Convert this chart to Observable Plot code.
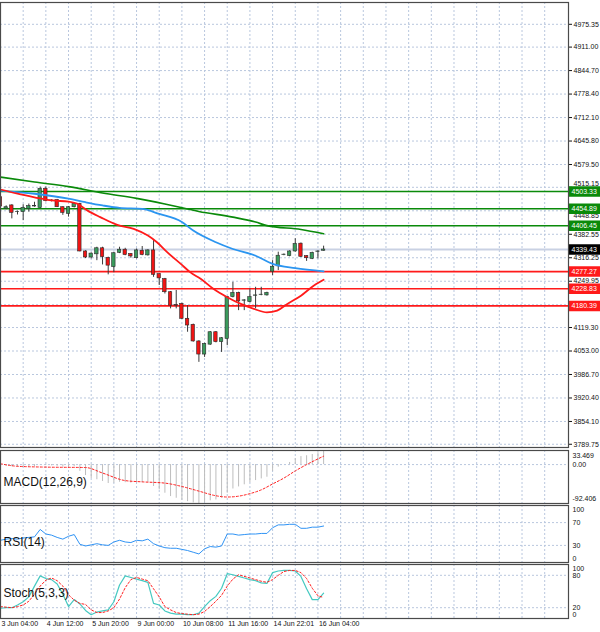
<!DOCTYPE html>
<html><head><meta charset="utf-8">
<script src="https://cdn.jsdelivr.net/npm/d3@7"></script>
<script src="https://cdn.jsdelivr.net/npm/@observablehq/plot@0.6"></script>
<style>
html,body{margin:0;padding:0;background:#fff;}
#chart{position:relative;width:600px;height:632px;overflow:hidden;background:#fff;}
#chart > svg{position:absolute;left:0;background:transparent !important;}
</style></head><body><div id="chart"></div>
<script>
// ---- price candles (H4 bars, index 0..57) ----
const opens  = [4487,4455,4464,4445,4445,4454,4461,4457,4511,4477,4479,4459,4440,4459,4468,4334,4317,4326,4343,4316,4290,4330,4339,4327,4315,4336,4323,4337,4270,4256,4219,4183,4186,4144,4127,4080,4043,4071,4106,4078,4087,4205,4217,4195,4191,4209,4211,4210,4277,4292,4324,4321,4334,4356,4321,4313,4333,4336];
const highs  = [4492,4463,4466,4448,4466,4468,4473,4516,4516,4480,4481,4460,4461,4470,4470,4336,4330,4346,4346,4318,4331,4346,4343,4328,4341,4348,4339,4365,4271,4258,4221,4224,4188,4181,4129,4082,4075,4108,4108,4091,4207,4247,4219,4198,4228,4233,4233,4219,4308,4332,4327,4336,4370,4358,4322,4332,4336,4349];
const lows   = [4455,4452,4426,4437,4421,4445,4459,4455,4474,4474,4458,4436,4431,4457,4333,4314,4313,4308,4296,4268,4274,4328,4322,4315,4313,4322,4321,4261,4238,4214,4172,4172,4142,4106,4078,4021,4035,4069,4076,4049,4068,4203,4167,4167,4189,4172,4209,4208,4266,4280,4322,4319,4332,4317,4306,4311,4313,4335];
const closes = [4461,4459,4443,4446,4457,4462,4462,4511,4476,4478,4459,4443,4459,4468,4334,4317,4328,4343,4318,4294,4329,4339,4324,4320,4337,4324,4337,4268,4258,4219,4181,4181,4144,4125,4080,4043,4073,4106,4078,4089,4205,4217,4193,4196,4205,4210,4212,4217,4291,4322,4325,4334,4355,4319,4315,4330,4334,4339.43];

// ---- moving averages (bar index, value) ----
const slowMaK = [0,6,12,18,24,29,33,35,41,45,47,53,57];
const slowMaV = [4544,4530,4517,4499,4484,4468,4454,4447,4431,4417,4407,4396,4384];
const midMaK  = [0,6,12,15,18,21,25,28,32,34,38,41,45,48,52,57];
const midMaV  = [4506,4497,4483,4473,4464,4457,4454,4440,4417,4393,4360,4341,4322,4299,4287,4278];
const fastMaK = [0,3,6,9,12,13.5,15.3,17.6,20.6,23.5,26,27.6,29.4,31.8,33.5,35.3,37.6,40,42.4,44.7,47,48.8,50.6,53,55.3,57];
const fastMaV = [4509,4497,4487,4478,4475,4469,4450,4431,4409,4398,4379,4360,4332,4299,4275,4257,4228,4205,4186,4172,4162,4167,4186,4209,4238,4254];

// ---- horizontal levels ----
const resistance = [4503.33, 4454.89, 4406.45];
const support    = [4277.27, 4228.83, 4180.39];
const bidPrice   = [4339.43];

// ---- price axis ticks ----
const priceTicks = [4975.35,4911.00,4844.70,4778.40,4712.10,4645.80,4579.50,4515.15,4448.85,4382.55,4316.25,4249.95,4183.65,4119.30,4053.00,3986.70,3920.40,3854.10,3789.75];
const tickAboveTag = [4515.15];   // partly hidden by the 4503.33 tag
const tickBelowTag = [4448.85];   // partly hidden by the 4454.89 tag
const tickHidden   = [4183.65];   // fully covered by the 4180.39 tag

// ---- MACD(12,26,9) ----
const macdMain = [-3,-4,-5,-6,-6,-5,-5,-1,-2,-3,-4,-6,-6,-5,-16,-26,-33,-36,-40,-45,-44,-42,-43,-44,-43,-43,-42,-52,-60,-68,-76,-80,-85,-88,-91,-92.4,-90,-86,-84,-80,-68,-58,-53,-48,-43,-38,-34,-30,-16,-6,0,5,14,19,21,24,28,33.469];
const macdSigK = [0,3,8,15,18,22,25,29,32,35,38,40,42,44,46,48,50,52,54,57];
const macdSigV = [2,-4,-6,-7,-20,-38,-41,-44,-52,-63,-74,-77,-75,-69,-60,-46,-32,-15,0,20];
const macdTicks = [33.469, 0, -92.406];

// ---- RSI(14) ----
const rsi = [39,41,42,41,43,44,45,58,50,48,44,41,46,49,32,29,31,33,31,30,36,39,36,35,39,38,41,33,29,26,25,25,23,21,18,15,24,28,27,29,50,50,48,49,50,50,51,51,61,66,66,67,67,60,60,62,62,64];
const rsiTicks = [100, 70, 30, 0];

// ---- Stochastic(5,3,3) ----
const stochMain = [19,20,20,25,31,40,60,79,74,72,64,45,22,35,27,15,7,12,14,16,31,62,79,76,73,70,67,28,25,14,10,8,8,7,7,10,22,33,41,56,83,81,78,75,72,70,66,65,85,88,89,89,88,78,55,35,35,47];
const stochSig  = [22,21,20,22,25,32,45,60,71,75,70,60,44,34,28,26,16,11,11,14,20,36,57,72,76,73,70,55,40,22,16,11,9,8,7,8,13,22,32,43,60,73,81,78,75,72,69,67,72,80,87,89,89,85,74,56,42,39];
const stochTicks = [100, 80, 20, 0];

// ---- time axis ----
const timeK = [0,8,16,24,32,40,48,56];
const timeLabels = ["3 Jun 04:00","4 Jun 12:00","5 Jun 20:00","9 Jun 00:00","10 Jun 08:00","11 Jun 16:00","14 Jun 22:01","16 Jun 04:00"];

// ---- build ----
const XMAX = 100.2;
const gridK = d3.range(0, 100, 4);
const GRID = "#b9c7de";
const FONT = "Tahoma, 'Liberation Sans', Arial, sans-serif";
const candles = opens.map((o, i) => ({k: i, o, h: highs[i], l: lows[i], c: closes[i]}));
const bulls = candles.filter(d => d.c >= d.o);
const bears = candles.filter(d => d.c < d.o);
const pts = (ks, vs) => ks.map((k, i) => ({k, v: vs[i]}));
const seq = vs => vs.map((v, k) => ({k, v}));
const fmt2 = d => d.toFixed(2);
const special = new Set([...tickAboveTag, ...tickBelowTag, ...tickHidden]);

const baseStyle = {fontFamily: FONT, fontSize: "7px", color: "#111", background: "transparent", overflow: "visible"};
const xOpt = {domain: [0, XMAX], axis: null};
const vgrid = () => Plot.ruleX(gridK, {stroke: GRID, strokeDasharray: "2,2"});
const frame = () => Plot.frame({stroke: "#4a4a4a", strokeWidth: 1.2});
const tagRule = (vals, color) => Plot.ruleY(vals, {y: d => d, x1: () => XMAX, x2: () => XMAX + 5.75, stroke: color, strokeWidth: 10.5});
const tagText = (vals) => Plot.text(vals, {y: d => d, x: () => XMAX, dx: 3, text: fmt2, textAnchor: "start", fill: "white", fontSize: 7});

const main = Plot.plot({
  width: 600, height: 449, marginLeft: 0, marginRight: 32, marginTop: 2, marginBottom: 2,
  x: xOpt,
  y: {domain: [3780.6, 5036.9], axis: "right", ticks: priceTicks, tickFormat: d => special.has(d) ? "" : fmt2(d), tickSize: 3, tickPadding: 2, label: null},
  style: baseStyle,
  marks: [
    Plot.ruleY(priceTicks, {stroke: GRID, strokeDasharray: "2,2"}),
    vgrid(),
    Plot.ruleY(bidPrice, {stroke: "#c9d1e3", strokeWidth: 2}),
    Plot.ruleY(resistance, {stroke: "#0a8a0a", strokeWidth: 1.5}),
    Plot.ruleY(support, {stroke: "#ff1a1a", strokeWidth: 1.7}),
    Plot.ruleX(candles, {x: "k", y1: "l", y2: "h", stroke: "#3a3a3a", strokeWidth: 1}),
    Plot.rect(bulls, {x1: d => d.k - 0.3, x2: d => d.k + 0.3, y1: "o", y2: "c", fill: "#3a9a5c", stroke: "#2a2a2a", strokeWidth: 0.6}),
    Plot.rect(bears, {x1: d => d.k - 0.3, x2: d => d.k + 0.3, y1: "o", y2: "c", fill: "#f01414", stroke: "#2a2a2a", strokeWidth: 0.6}),
    Plot.line(pts(slowMaK, slowMaV), {x: "k", y: "v", stroke: "#0a8a0a", strokeWidth: 1.6, curve: "monotone-x"}),
    Plot.line(pts(midMaK, midMaV), {x: "k", y: "v", stroke: "#2b95f0", strokeWidth: 1.8, curve: "monotone-x"}),
    Plot.line(pts(fastMaK, fastMaV), {x: "k", y: "v", stroke: "#ff1a1a", strokeWidth: 1.8, curve: "monotone-x"}),
    Plot.text(tickAboveTag, {y: d => d, frameAnchor: "right", dx: 5, dy: -3.5, text: fmt2, textAnchor: "start"}),
    Plot.text(tickBelowTag, {y: d => d, frameAnchor: "right", dx: 5, dy: 5, text: fmt2, textAnchor: "start"}),
    tagRule(resistance, "#0a8a0a"),
    tagRule(support, "#ff1a1a"),
    tagRule(bidPrice, "#000000"),
    tagText(resistance), tagText(support), tagText(bidPrice),
    frame()
  ]
});

const macd = Plot.plot({
  width: 600, height: 56, marginLeft: 0, marginRight: 32, marginTop: 2, marginBottom: 1,
  x: xOpt,
  y: {domain: [-92.406, 33.469], axis: null},
  style: baseStyle,
  marks: [
    vgrid(),
    Plot.ruleY([0], {stroke: GRID, strokeDasharray: "2,2"}),
    Plot.ruleX(seq(macdMain), {x: "k", y1: 0, y2: "v", stroke: "#bdbdbd", strokeWidth: 1}),
    Plot.line(pts(macdSigK, macdSigV), {x: "k", y: "v", stroke: "#ff2020", strokeWidth: 1, strokeDasharray: "2,2", curve: "monotone-x"}),
    Plot.text([macdTicks[0]], {y: d => d, frameAnchor: "right", dx: 4, dy: 5, text: d => d.toFixed(3), textAnchor: "start"}),
    Plot.text([macdTicks[1]], {y: d => d, frameAnchor: "right", dx: 4, text: fmt2, textAnchor: "start"}),
    Plot.text([macdTicks[2]], {y: d => d, frameAnchor: "right", dx: 4, dy: -5, text: d => d.toFixed(3), textAnchor: "start"}),
    Plot.text(["MACD(12,26,9)"], {frameAnchor: "left", dx: 3, dy: 5, textAnchor: "start", fontSize: 12, fill: "#111"}),
    frame()
  ]
});

const rsiPlot = Plot.plot({
  width: 600, height: 60, marginLeft: 0, marginRight: 32, marginTop: 2, marginBottom: 1,
  x: xOpt,
  y: {domain: [0, 100], axis: null},
  style: baseStyle,
  marks: [
    vgrid(),
    Plot.ruleY([70, 30], {stroke: GRID, strokeDasharray: "2,2"}),
    Plot.line(seq(rsi), {x: "k", y: "v", stroke: "#2f93f5", strokeWidth: 1}),
    Plot.text([rsiTicks[0]], {y: d => d, frameAnchor: "right", dx: 4, dy: 4, text: String, textAnchor: "start"}),
    Plot.text(rsiTicks.slice(1, 3), {y: d => d, frameAnchor: "right", dx: 4, text: String, textAnchor: "start"}),
    Plot.text([rsiTicks[3]], {y: d => d, frameAnchor: "right", dx: 4, dy: -4, text: String, textAnchor: "start"}),
    Plot.text(["RSI(14)"], {frameAnchor: "left", dx: 3, dy: 8, textAnchor: "start", fontSize: 12, fill: "#111"}),
    frame()
  ]
});

const stoch = Plot.plot({
  width: 600, height: 70, marginLeft: 0, marginRight: 32, marginTop: 2, marginBottom: 14,
  x: xOpt,
  y: {domain: [0, 100], axis: null},
  style: baseStyle,
  marks: [
    vgrid(),
    Plot.ruleY([80, 20], {stroke: GRID, strokeDasharray: "2,2"}),
    Plot.line(seq(stochMain), {x: "k", y: "v", stroke: "#45c9c1", strokeWidth: 1.2}),
    Plot.line(seq(stochSig), {x: "k", y: "v", stroke: "#ff2020", strokeWidth: 1, strokeDasharray: "2,2"}),
    Plot.text([stochTicks[0]], {y: d => d, frameAnchor: "right", dx: 4, dy: 4, text: String, textAnchor: "start"}),
    Plot.text(stochTicks.slice(1, 3), {y: d => d, frameAnchor: "right", dx: 4, text: String, textAnchor: "start"}),
    Plot.text([stochTicks[3]], {y: d => d, frameAnchor: "right", dx: 4, dy: -4, text: String, textAnchor: "start"}),
    Plot.text(["Stoch(5,3,3)"], {frameAnchor: "left", dx: 3, dy: 2, textAnchor: "start", fontSize: 12, fill: "#111"}),
    Plot.text(timeK, {x: d => d, frameAnchor: "bottom", dy: 7, dx: 1, text: (d, i) => timeLabels[i], textAnchor: "start"}),
    frame()
  ]
});

const host = document.getElementById("chart");
[[main, 0], [macd, 448], [rsiPlot, 503], [stoch, 562]].forEach(([el, top]) => {
  el.style.top = top + "px";
  host.appendChild(el);
});
</script></body></html>
